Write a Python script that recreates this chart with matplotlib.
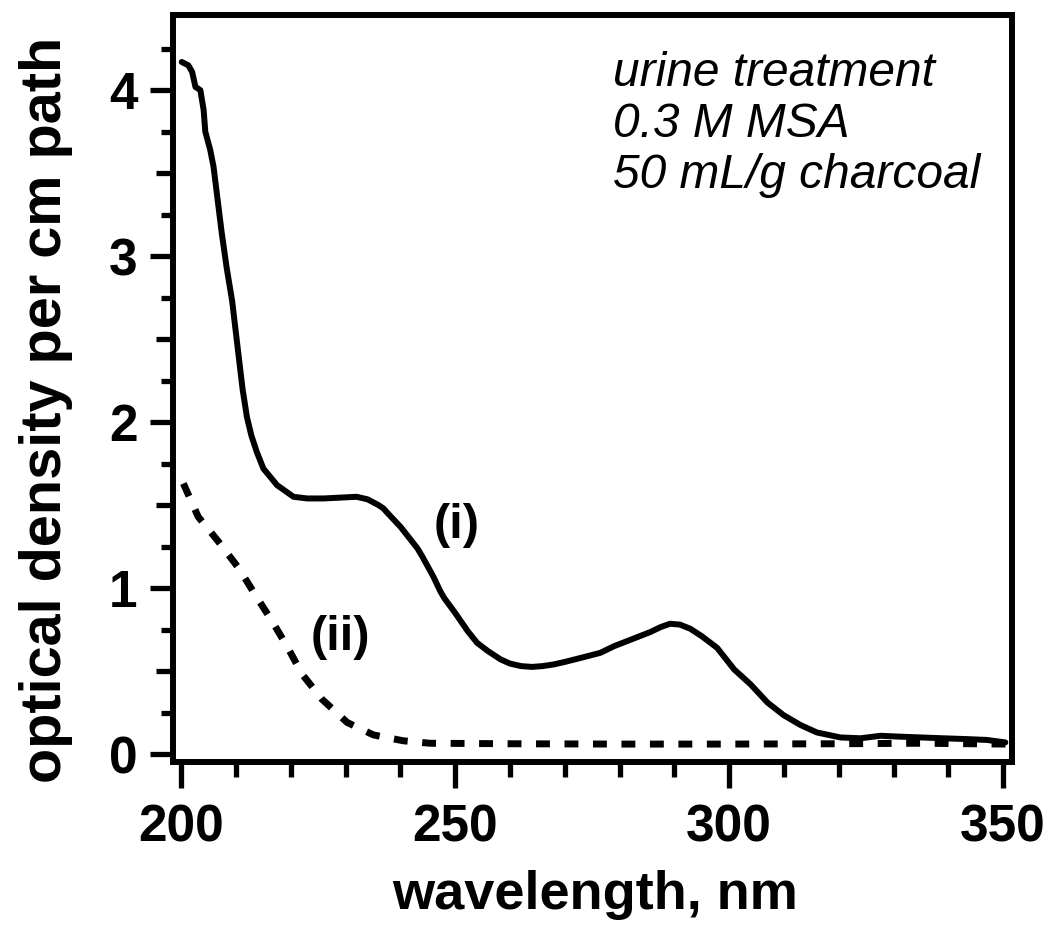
import numpy as np
import matplotlib
matplotlib.use("Agg")
import matplotlib.pyplot as plt
from matplotlib.ticker import MultipleLocator

plt.rcParams['font.family'] = ['Liberation Sans', 'DejaVu Sans']

# spectrum (i): treated urine
wl_i = [200.1, 201.3, 202.0, 202.6, 203.5, 204.1, 204.4, 205.3, 205.9, 206.5,
        207.4, 208.3, 209.3, 210.3, 211.2, 212.0, 212.8, 213.8, 215.0, 217.5,
        220.5, 223.0, 226.0, 229.0, 232.0, 234.0, 236.0, 236.9, 238.0, 240.0,
        243.1, 244.0, 246.0, 247.3, 248.0, 250.0, 252.3, 254.0, 256.0, 258.3,
        260.0, 262.0, 264.0, 266.0, 268.0, 270.0, 273.0, 276.5, 279.0, 282.5,
        285.6, 287.5, 289.2, 291.0, 292.9, 295.0, 297.8, 300.9, 303.9, 307.0,
        309.9, 313.0, 316.0, 320.3, 324.0, 327.6, 331.0, 334.9, 339.0, 343.4,
        347.0, 350.4]
od_i = [4.17, 4.15, 4.11, 4.02, 4.00, 3.88, 3.75, 3.64, 3.54, 3.38,
        3.14, 2.93, 2.73, 2.45, 2.20, 2.03, 1.92, 1.82, 1.72, 1.62,
        1.55, 1.54, 1.54, 1.545, 1.55, 1.535, 1.50, 1.48, 1.44, 1.37,
        1.24, 1.19, 1.07, 0.98, 0.94, 0.85, 0.74, 0.67, 0.62, 0.57,
        0.545, 0.53, 0.525, 0.53, 0.54, 0.555, 0.58, 0.61, 0.65, 0.695,
        0.735, 0.765, 0.785, 0.78, 0.755, 0.71, 0.64, 0.51, 0.42, 0.31,
        0.235, 0.175, 0.13, 0.10, 0.095, 0.11, 0.105, 0.10, 0.095, 0.09,
        0.085, 0.07]

# spectrum (ii): dashed
wl_ii = [200.4, 203.1, 206.8, 210.5, 213.5, 216.6, 219.3, 222.1, 225.7, 230.3,
         235.1, 240.5, 245.4, 260.0, 280.0, 300.0, 320.0, 335.0, 350.5]
od_ii = [1.63, 1.43, 1.28, 1.12, 0.96, 0.80, 0.65, 0.48, 0.33, 0.19,
         0.115, 0.08, 0.065, 0.062, 0.06, 0.06, 0.062, 0.065, 0.06]

xticks = [200, 250, 300, 350]
yticks = [0, 1, 2, 3, 4]
note_lines = ['urine treatment', '0.3 M MSA', '50 mL/g charcoal']

fig = plt.figure(figsize=(10.54, 9.26), dpi=100)
ax = fig.add_axes([0.1641, 0.1771, 0.796, 0.8067])

ax.plot(wl_i, od_i, color='black', lw=4.3, solid_capstyle='round', solid_joinstyle='round')
ax.plot(wl_ii, od_ii, color='black', lw=5.0, linestyle=(0, (2.0, 2.1)))

ax.set_xlim(198.5, 351.6)
ax.set_ylim(-0.048, 4.453)

for s in ax.spines.values():
    s.set_linewidth(4.3)

ax.set_xticks(xticks)
ax.xaxis.set_minor_locator(MultipleLocator(10))
ax.set_yticks(yticks)
ax.yaxis.set_minor_locator(MultipleLocator(0.25))

ax.tick_params(axis='x', which='major', direction='out', length=19, width=3.8, pad=11)
ax.tick_params(axis='x', which='minor', direction='out', length=11, width=3.8)
ax.tick_params(axis='y', which='major', direction='out', length=16.5, width=3.8, pad=9)
ax.tick_params(axis='y', which='minor', direction='out', length=8.5, width=3.8)
ax.tick_params(labelsize=37)
for lab in ax.get_xticklabels() + ax.get_yticklabels():
    lab.set_fontweight('bold')

# half-unit ticks on y are a bit longer than the quarter ones
ylocs = ax.yaxis.get_minorticklocs()
for loc, tk in zip(ylocs, ax.yaxis.get_minor_ticks(len(ylocs))):
    if abs(loc * 2 - round(loc * 2)) < 1e-6:
        tk.tick1line.set_markersize(12.5)

fig.text(0.5645, 0.0335, 'wavelength, nm', ha='center', va='center',
         fontsize=39, fontweight='bold')
fig.text(0.0436, 0.557, 'optical density per cm path', ha='center', va='center',
         rotation=90, fontsize=41.5, fontweight='bold')

for i, line in enumerate(note_lines):
    fig.text(0.5816, 1 - (86 + 51 * i) / 926, line, ha='left', va='baseline',
             fontsize=34.5, fontstyle='italic')

ax.text(250.2, 1.38, '(i)', ha='center', va='center', fontsize=35, fontweight='bold')
ax.text(229.0, 0.70, '(ii)', ha='center', va='center', fontsize=35, fontweight='bold')

plt.savefig('out.png', dpi=100)
